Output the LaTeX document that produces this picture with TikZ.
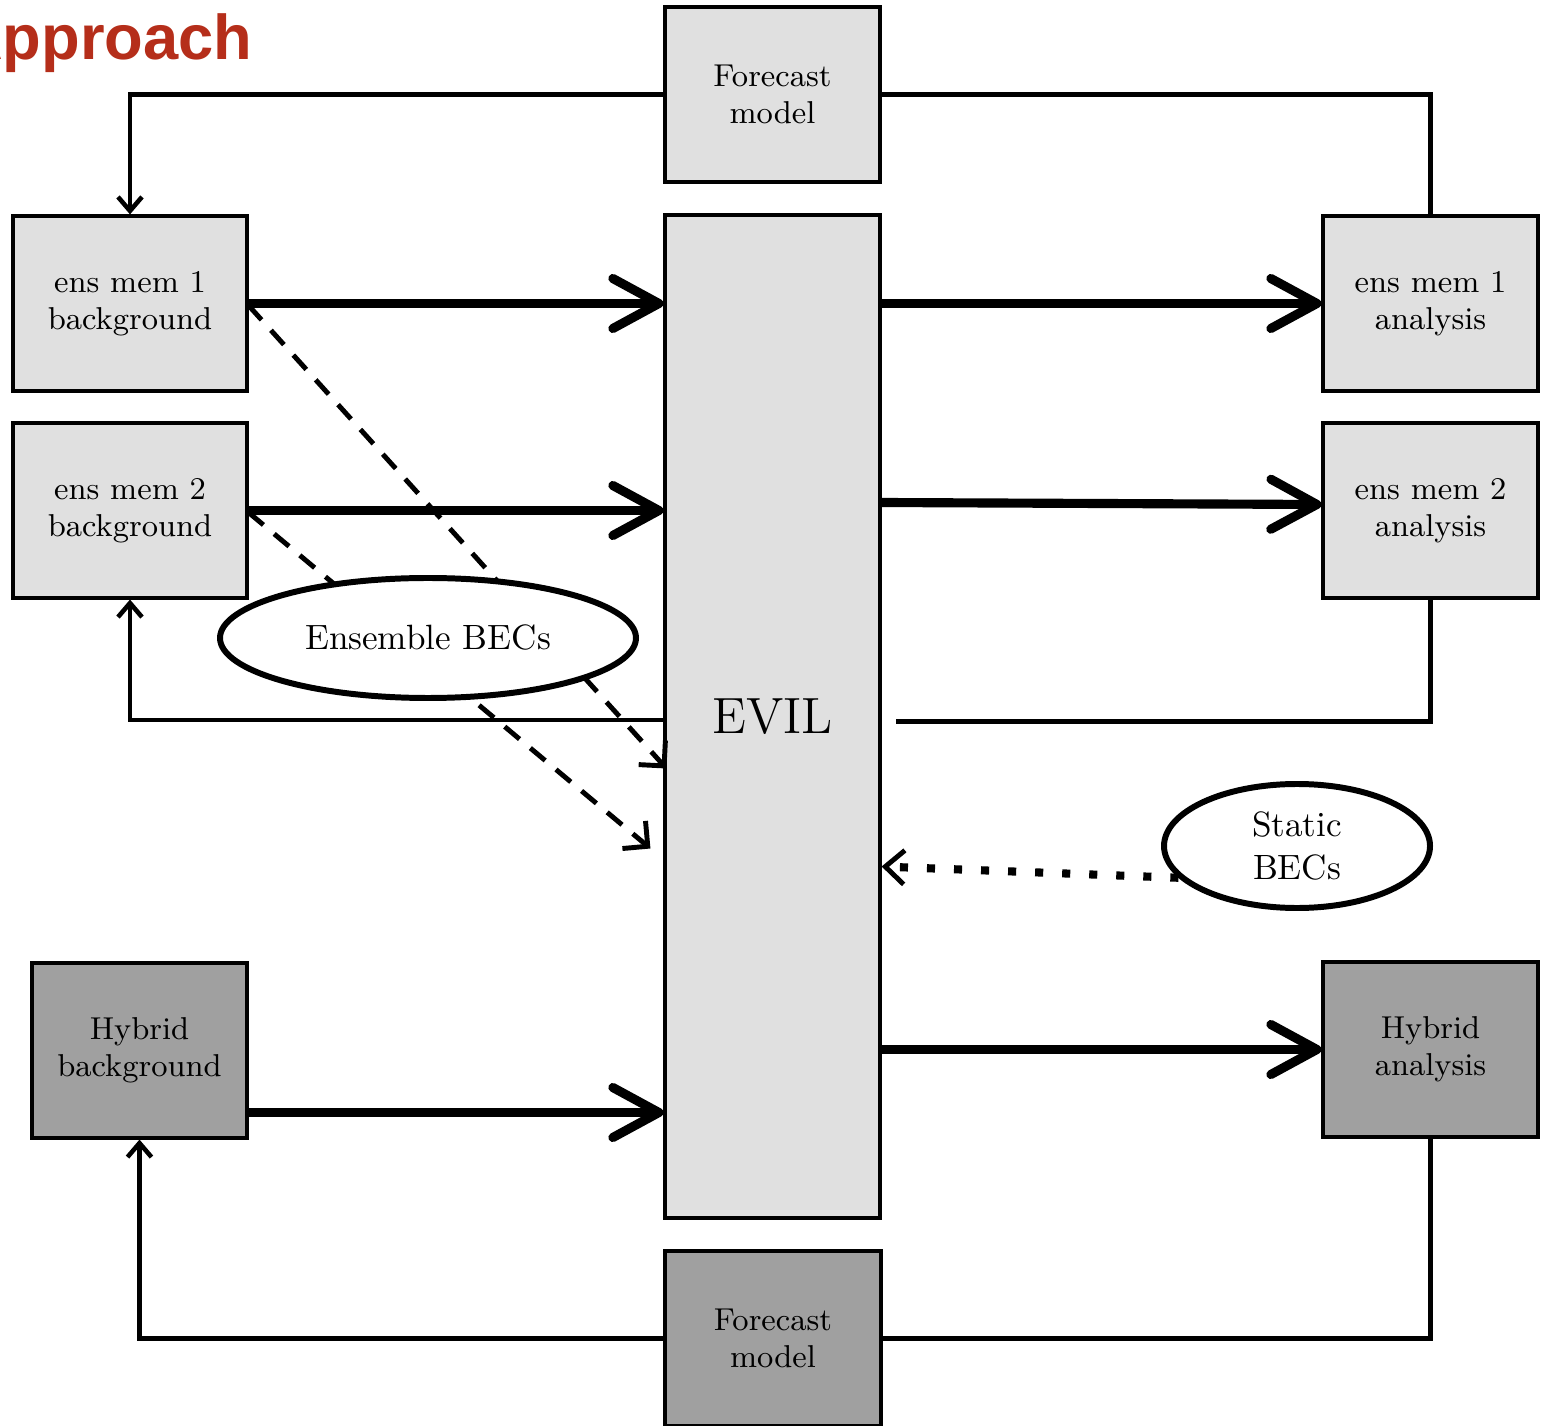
\documentclass[tikz,border=0pt]{standalone}
\usepackage{fontspec}
\newfontfamily\headfont{Liberation Sans}
\usetikzlibrary{shapes.geometric, positioning, arrows.meta, calc}
\definecolor{titlered}{RGB}{181,46,26}
\definecolor{boxlight}{RGB}{224,224,224}
\definecolor{boxdark}{RGB}{160,160,160}
\tikzset{
  member/.style={rectangle, minimum width=2.15cm, minimum height=1.75cm, align=center, draw=black, line width=0.9pt, fill=boxlight, font=\fontsize{9}{10.5}\selectfont},
  hybrid/.style={member, fill=boxdark},
  bec/.style={ellipse, draw=black, line width=1.7pt, fill=white, align=center, inner sep=0pt, font=\fontsize{10}{12}\selectfont},
  flow/.style={line width=2.6pt, -{Straight Barb[length=4.6mm, width=5mm, round]}},
  cyclingline/.style={line width=1.3pt},
  feedback/.style={cyclingline, -{Straight Barb[length=1.4mm, width=2.4mm]}},
  ensline/.style={line width=1.4pt, dash pattern=on 5.5pt off 4pt, -{Straight Barb[length=1.8mm, width=3.6mm]}},
  statline/.style={line width=2.3pt, dash pattern=on 2.3pt off 5.4pt, -{Straight Barb[length=1.9mm, width=3.4mm, line width=1.4pt]}}
}
\begin{document}
\begin{tikzpicture}[x=0.1mm, y=-0.1mm]
    \useasboundingbox (0,0) rectangle (1547,1426);
    \node (title) [anchor=base east, inner sep=0pt, text=titlered, font=\headfont\bfseries\fontsize{18}{21}\selectfont] at (253,60) {Approach};

    % boxes
    \node (fcTop) [member] at (772.5,94.5) {Forecast\\model};
    \node (evil) [member, minimum height=10.03cm, font=\fontsize{14.5}{17}\selectfont] at (772.5,716.5) {EVIL};
    \node (bgA) [member, minimum width=2.34cm] at (130,303.5) {ens mem \oldstylenums{1}\\background};
    \node (bgB) [member, minimum width=2.34cm] at (130,510.5) {ens mem \oldstylenums{2}\\background};
    \node (bgH) [hybrid] at (139.5,1050.5) {Hybrid\\background};
    \node (anA) [member] at (1430.5,303.5) {ens mem \oldstylenums{1}\\analysis};
    \node (anB) [member] at (1430.5,510.5) {ens mem \oldstylenums{2}\\analysis};
    \node (anH) [hybrid] at (1430.5,1049.5) {Hybrid\\analysis};
    \node (fcBot) [hybrid, minimum width=2.16cm] at (773,1338.5) {Forecast\\model};
    \node (statBEC) [bec, minimum width=2.66cm, minimum height=1.24cm] at (1297,846) {Static\\BECs};

    % cycling lines
    \draw[feedback] (fcTop.west) -| (bgA.north);
    \draw[cyclingline] (fcTop.east) -| (anA.north);
    \coordinate (gapB) at ($(evil.east)+(14,5)$);
    \draw[cyclingline] (anB.south) |- (gapB);
    \draw[feedback] ($(evil.west)+(0,3.5)$) -| (bgB.south);
    \draw[cyclingline] (anH.south) |- (fcBot.east);
    \draw[feedback] (fcBot.west) -| (bgH.south);

    % members into and out of EVIL
    \draw[flow] (bgA.east) -- (bgA.east -| evil.west);
    \draw[flow] (bgB.east) -- (bgB.east -| evil.west);
    \coordinate (hyIn) at ($(bgH.east)+(0,62)$);
    \draw[flow] (hyIn) -- (hyIn -| evil.west);
    \draw[flow] (anA.west -| evil.east) -- (anA.west);
    \draw[flow] ($(anB.west -| evil.east)+(0,-8)$) -- ($(anB.west)+(0,-6)$);
    \draw[flow] (anH.west -| evil.east) -- (anH.west);

    % covariances
    \draw[ensline] ($(bgA.east)+(0,2)$) -- ($(evil.west)+(3,52)$);
    \draw[ensline] ($(bgB.east)+(0,2)$) -- ($(evil.west)+(-13,132)$);
    \node (ensBEC) [bec, minimum width=4.16cm, minimum height=1.2cm] at (428,638) {Ensemble BECs};
    \draw[statline] (statBEC.195) -- ($(evil.east)+(0,150)$);
\end{tikzpicture}
\end{document}
